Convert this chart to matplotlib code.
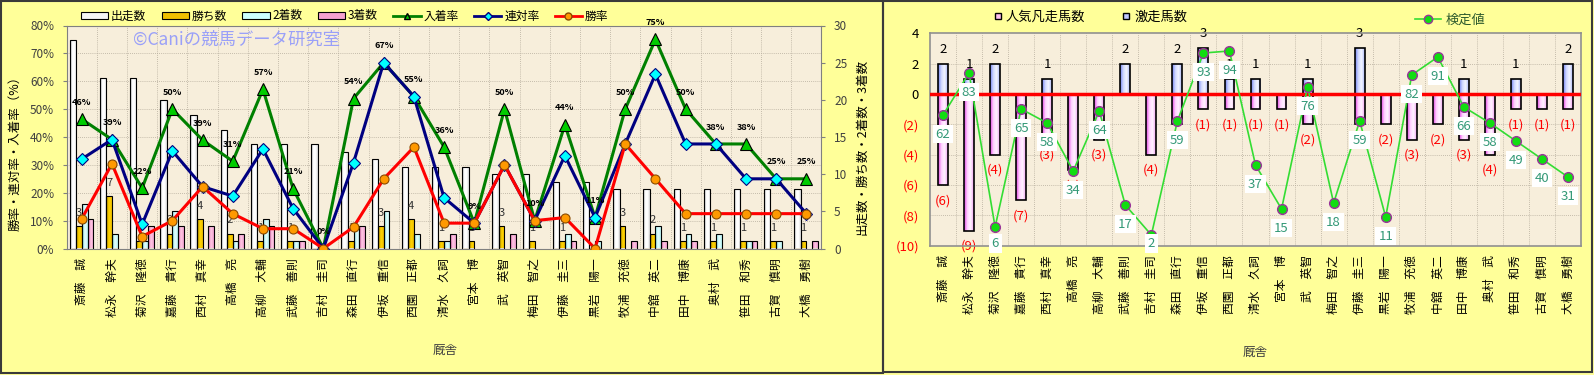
import numpy as np
import matplotlib
matplotlib.use('Agg')
import matplotlib.pyplot as plt
from matplotlib.colors import LinearSegmentedColormap
from matplotlib.patches import Rectangle, Patch
from matplotlib.lines import Line2D

plt.rcParams['font.family'] = ['Noto Sans CJK JP', 'DejaVu Sans']

# ---------------- data ----------------
trainers = ['斎藤　誠', '松永　幹夫', '菊沢　隆徳', '嘉藤　貴行', '西村　真幸', '高橋　亮',
            '高柳　大輔', '武藤　善則', '吉村　圭司', '森田　直行', '伊坂　重信', '西園　正都',
            '清水　久詞', '宮本　博', '武　英智', '梅田　智之', '伊藤　圭三', '黒岩　陽一',
            '牧浦　充徳', '中舘　英二', '田中　博康', '奥村　武', '笹田　和秀', '古賀　慎明',
            '大橋　勇樹']
runs = [28, 23, 23, 20, 18, 16, 14, 14, 14, 13, 12, 11, 11, 11, 10, 10, 9, 9, 8, 8, 8, 8, 8, 8, 8]
wins = [3, 7, 1, 2, 4, 2, 1, 1, 0, 1, 3, 4, 1, 1, 3, 1, 1, 0, 3, 2, 1, 1, 1, 1, 1]
seconds = [6, 2, 1, 5, 0, 1, 4, 1, 0, 3, 5, 2, 1, 0, 0, 0, 2, 1, 0, 3, 2, 2, 1, 1, 0]
thirds = [4, 0, 3, 3, 3, 2, 3, 1, 0, 3, 0, 0, 2, 0, 2, 0, 1, 0, 1, 1, 1, 0, 1, 0, 1]
win_rate = [10.7, 30.4, 4.3, 10.0, 22.2, 12.5, 7.1, 7.1, 0.0, 7.7, 25.0, 36.4, 9.1, 9.1, 30.0,
            10.0, 11.1, 0.0, 37.5, 25.0, 12.5, 12.5, 12.5, 12.5, 12.5]
rentai_rate = [32.1, 39.1, 8.7, 35.0, 22.2, 18.8, 35.7, 14.3, 0.0, 30.8, 66.7, 54.5, 18.2, 9.1,
               30.0, 10.0, 33.3, 11.1, 37.5, 62.5, 37.5, 37.5, 25.0, 25.0, 12.5]
place_rate = [46.4, 39.1, 21.7, 50.0, 38.9, 31.3, 57.1, 21.4, 0.0, 53.8, 66.7, 54.5, 36.4, 9.1,
              50.0, 10.0, 44.4, 11.1, 50.0, 75.0, 50.0, 37.5, 37.5, 25.0, 25.0]
place_labels = ['46%', '39%', '22%', '50%', '39%', '31%', '57%', '21%', '0%', '54%', '67%', '55%',
                '36%', '9%', '50%', '10%', '44%', '11%', '50%', '75%', '50%', '38%', '38%', '25%', '25%']

gekisou = [2, 1, 2, 0, 1, 0, 0, 2, 0, 2, 3, 1, 1, 0, 1, 0, 3, 0, 0, 0, 1, 0, 1, 0, 2]
bonsou = [-6, -9, -4, -7, -3, -5, -3, 0, -4, -2, -1, -1, -1, -1, -2, 0, -2, -2, -3, -2, -3, -4, -1, -1, -1]
kentei = [62, 83, 6, 65, 58, 34, 64, 17, 2, 59, 93, 94, 37, 15, 76, 18, 59, 11, 82, 91, 66, 58, 49, 40, 31]

# ---------------- helpers ----------------
W, H = 1594, 375
fig = plt.figure(figsize=(W / 100, H / 100), dpi=100)
fig.patch.set_facecolor('#FFFF99')


def fx(px):
    return px / W


def fy(py):
    return 1 - py / H


def shade_bars(ax, container, colors):
    cmap = LinearSegmentedColormap.from_list('g', colors)
    grad = np.linspace(0, 1, 64).reshape(1, -1)
    for b in container:
        h = b.get_height()
        if h == 0:
            b.set_visible(False)
            continue
        x0, w, y0 = b.get_x(), b.get_width(), b.get_y()
        im = ax.imshow(grad, cmap=cmap, extent=(x0, x0 + w, min(y0, y0 + h), max(y0, y0 + h)),
                       aspect='auto', interpolation='bilinear', zorder=1.6)
        im.set_clip_path(b)
        b.set_facecolor('none')
        b.set_zorder(1.7)


BG = '#F7EEDB'
GRID = dict(color='#B5AC9C', lw=0.6, ls=(0, (1, 1.5)), zorder=0.5)
n = len(trainers)
x = np.arange(n)

# panel borders
fig.add_artist(Rectangle((fx(1), fy(373)), fx(883) - fx(1), fy(1) - fy(373), transform=fig.transFigure,
                         fill=False, ec='#3A3A3A', lw=1.5))
fig.add_artist(Rectangle((fx(883), fy(372)), fx(1592) - fx(883), fy(1) - fy(372), transform=fig.transFigure,
                         fill=False, ec='#3A3A3A', lw=1.5))

# ================= LEFT CHART =================
axL = fig.add_axes([fx(66.7), fy(248.5), (821.5 - 66.7) / W, (248.5 - 25.5) / H])
axT = axL.twinx()
axL.set_facecolor(BG)
for p in range(10, 80, 10):
    axL.axhline(p * 30 / 80, **GRID)
for i in range(1, n):
    axL.axvline(i - 0.5, **GRID)

b_runs = axL.bar(x - 0.40, runs, width=0.21, align='edge', ec='black', lw=0.8)
b_wins = axL.bar(x - 0.19, wins, width=0.19, align='edge', ec='black', lw=0.8)
b_sec = axL.bar(x + 0.0, seconds, width=0.19, align='edge', ec='black', lw=0.8)
b_thr = axL.bar(x + 0.19, thirds, width=0.19, align='edge', ec='black', lw=0.8)
shade_bars(axL, b_runs, ['#A0A0A0', '#FFFFFF', '#FFFFFF', '#D8D8D8'])
shade_bars(axL, b_wins, ['#B08800', '#FFD400', '#F0C000'])
shade_bars(axL, b_sec, ['#70D8D8', '#E8FFFF', '#B8F4F4'])
shade_bars(axL, b_thr, ['#D860A8', '#FFC8E4', '#F0A0D0'])

for i, w in enumerate(wins):
    if w > 0:
        axL.annotate(str(w), (i - 0.095, w), xytext=(0, 9.5), textcoords='offset points',
                     ha='center', va='center', fontsize=8, color='#333333', zorder=2)

axL.set_xlim(-0.5, n - 0.5)
axL.set_ylim(0, 30)
axL.set_yticks(range(0, 31, 5))
axL.set_xticks(x)
axL.set_xticklabels(trainers, rotation=90, fontsize=8.5)
axL.tick_params(axis='x', length=0, pad=7)
for s in axL.spines.values():
    s.set_color('#808080')
    s.set_linewidth(0.8)

axT.plot(x, place_rate, color='#008000', lw=2.2, marker='^', ms=8.5, mfc='#00CC00', mec='#000000',
         mew=0.8, zorder=3)
axT.plot(x, rentai_rate, color='#000080', lw=2.2, marker='D', ms=6, mfc='#00FFFF', mec='#000080',
         mew=0.8, zorder=4)
axT.plot(x, win_rate, color='#FF0000', lw=2.2, marker='o', ms=6.5, mfc='#FF9900', mec='#8A4A00',
         mew=0.8, zorder=5)
for i, (p, lbl) in enumerate(zip(place_rate, place_labels)):
    axT.annotate(lbl, (i, p), xytext=(0, 12.2), textcoords='offset points', ha='center', va='center',
                 fontsize=6.5, fontweight='bold', zorder=6)
axT.set_ylim(0, 80)
axT.set_yticks(range(0, 81, 10))
axT.set_yticklabels([f'{v}%' for v in range(0, 81, 10)])
for s in axT.spines.values():
    s.set_visible(False)

# put axis sides: rates on the left, counts on the right
axT.yaxis.tick_left()
axT.yaxis.set_label_position('left')
axL.yaxis.tick_right()
axL.yaxis.set_label_position('right')
axT.tick_params(axis='y', labelsize=8.5, labelcolor='#404040', color='#808080', length=3, pad=6)
axL.tick_params(axis='y', labelsize=8.5, labelcolor='#404040', color='#808080', length=3, pad=6)
axL.set_xlim(-0.5, n - 0.5)
axL.set_ylim(0, 30)

fig.text(fx(15), fy(150), '勝率・連対率・入着率（%）', rotation=90, ha='center', va='center', fontsize=9)
fig.text(fx(862), fy(147), '出走数・勝ち数・2着数・3着数', rotation=90, ha='center', va='center', fontsize=9)
fig.text(fx(445), fy(350), '厩舎', ha='center', va='center', fontsize=9, color='#404040')
fig.text(fx(133), fy(40), '©Caniの競馬データ研究室', ha='left', va='center', fontsize=12.5, color='#9AA0F8')

handlesL = [Patch(fc='#F4F4F4', ec='k', lw=0.8), Patch(fc='#F0C000', ec='k', lw=0.8),
            Patch(fc='#CCFFFF', ec='k', lw=0.8), Patch(fc='#F5A0D0', ec='k', lw=0.8),
            Line2D([], [], color='#008000', lw=2, marker='^', mfc='#00CC00', mec='k', ms=5),
            Line2D([], [], color='#000080', lw=2, marker='D', mfc='#00FFFF', mec='#000080', ms=4),
            Line2D([], [], color='#FF0000', lw=2, marker='o', mfc='#FF9900', mec='#8A4A00', ms=5)]
fig.legend(handlesL, ['出走数', '勝ち数', '2着数', '3着数', '入着率', '連対率', '勝率'],
           loc='center left', bbox_to_anchor=(fx(81), fy(16)), ncol=7, frameon=False, fontsize=8.5,
           handlelength=2.3, handleheight=0.55, handletextpad=0.25, columnspacing=1.3,
           borderpad=0, borderaxespad=0)

# ================= RIGHT CHART =================
axR = fig.add_axes([fx(930), fy(245.7), (1581 - 930) / W, (245.7 - 33.3) / H])
axK = axR.twinx()
axR.set_facecolor(BG)
for v in [-8, -6, -4, -2, 2]:
    axR.axhline(v, **GRID)
for i in range(1, n):
    axR.axvline(i - 0.5, **GRID)

b_bon = axR.bar(x, bonsou, width=0.38, ec='black', lw=1.2)
b_gek = axR.bar(x, gekisou, width=0.38, ec='black', lw=1.2)
shade_bars(axR, b_bon, ['#E040E0', '#FFD0FF', '#FFF4FF', '#F0A0F0'])
shade_bars(axR, b_gek, ['#7080F0', '#D0D8FF', '#F4F6FF', '#A8B4F8'])
axR.axhline(0, color='#FF0000', lw=2.5, zorder=3)

for i, (g, bn) in enumerate(zip(gekisou, bonsou)):
    if g > 0:
        axR.annotate(str(g), (i, g), xytext=(0, 10.5), textcoords='offset points', ha='center',
                     va='center', fontsize=9.5, color='black', zorder=2)
    if bn < 0:
        axR.annotate(f'({-bn})', (i, bn), xytext=(0, -11.3), textcoords='offset points', ha='center',
                     va='center', fontsize=9.5, color='#FF0000', zorder=2)

axR.set_xlim(-0.5, n - 0.5)
axR.set_ylim(-10, 4)
yt = list(range(-10, 5, 2))
axR.set_yticks(yt)
axR.set_yticklabels([str(v) if v >= 0 else f'({-v})' for v in yt])
for lab, v in zip(axR.get_yticklabels(), yt):
    lab.set_color('#FF0000' if v < 0 else 'black')
axR.tick_params(axis='y', labelsize=9.5, length=0, pad=8)
axR.set_xticks(x)
axR.set_xticklabels(trainers, rotation=90, fontsize=8.5)
axR.tick_params(axis='x', length=0, pad=7)
for s in axR.spines.values():
    s.set_color('#909090')
    s.set_linewidth(1.2)

axK.plot(x, kentei, color='#33DD33', lw=1.2, marker='o', ms=7, mfc='#11DD11', mec='#993399',
         mew=1, zorder=4)
for i, v in enumerate(kentei):
    axK.text(i, max(v - 9.5, -2.3), str(v), ha='center', va='center', fontsize=9.5, color='#339977',
             bbox=dict(boxstyle='square,pad=0.22', fc='white', ec='none'), zorder=5, clip_on=False)
axK.set_ylim(-3.35, 102.85)
axK.set_yticks([])
for s in axK.spines.values():
    s.set_visible(False)
axR.set_xlim(-0.5, n - 0.5)
axR.set_ylim(-10, 4)

fig.text(fx(1255), fy(352), '厩舎', ha='center', va='center', fontsize=9, color='#404040')

handlesR = [Line2D([], [], ls='none', marker='s', mfc='#FFC0F0', mec='k', ms=5),
            Line2D([], [], ls='none', marker='s', mfc='#C0C8FF', mec='k', ms=5)]
fig.legend(handlesR, ['人気凡走馬数', '激走馬数'], loc='center left', bbox_to_anchor=(fx(994), fy(17)),
           ncol=2, frameon=False, fontsize=9.5, handlelength=0.6, handletextpad=0.3,
           columnspacing=2.8, borderpad=0, borderaxespad=0)
legK = fig.legend([Line2D([], [], color='#33DD33', lw=1.2, marker='o', mfc='#11DD11', mec='#993399', ms=6)],
                  ['検定値'], loc='center left', bbox_to_anchor=(fx(1415), fy(20)), frameon=False,
                  fontsize=9.5, handlelength=2.0, handletextpad=0.3, borderpad=0, borderaxespad=0)
for t in legK.get_texts():
    t.set_color('#2D5A2D')

fig.savefig('out.png', dpi=100, facecolor=fig.get_facecolor())
